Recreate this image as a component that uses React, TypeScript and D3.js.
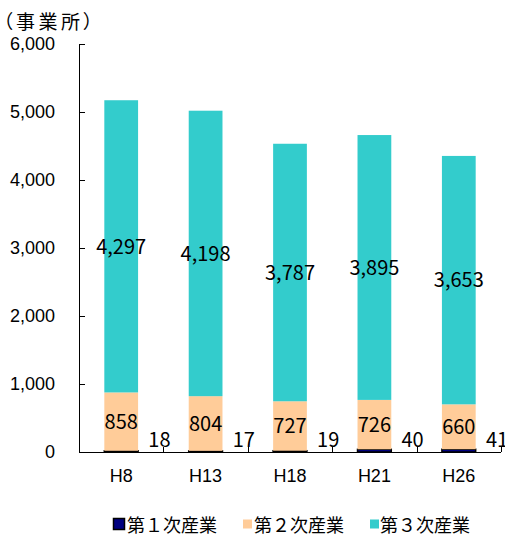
import React from "react";
import * as d3 from "d3";

const categories = ["H8", "H13", "H18", "H21", "H26"];
const primary = [18, 17, 19, 40, 41];
const secondary = [858, 804, 727, 726, 660];
const tertiary = [4297, 4198, 3787, 3895, 3653];
const seriesNames = ["第１次産業", "第２次産業", "第３次産業"];
const seriesColors = ["#000080", "#FFCC99", "#33CCCC"];
const yTicks = [0, 1000, 2000, 3000, 4000, 5000, 6000];

const W = 505;
const H = 537;
const left = 79;
const right = 501;
const top = 44;
const bottom = 452;

export default function App() {
  const x = d3.scaleBand<string>().domain(categories).range([left, right]).padding(0);
  const y = d3.scaleLinear().domain([0, 6000]).range([bottom, top]);
  const bw = x.bandwidth() * 0.4;
  const fmt = d3.format(",");
  const jp = "Noto Sans CJK JP, sans-serif";
  const ar = "Liberation Sans, Arial, sans-serif";

  const rows = categories.map((c, i) => ({
    c,
    vals: [primary[i], secondary[i], tertiary[i]],
  }));

  return (
    <svg
      width={W}
      height={H}
      style={{ position: "absolute", left: 0, top: 0, background: "#fff" }}
    >
      {/* unit label */}
      <text
        x={3}
        y={29}
        fontFamily={jp}
        fontSize={19}
        letterSpacing={3.5}
        style={{ fontFeatureSettings: '"palt"' }}
        fill="#000"
      >
        （事業所）
      </text>

      {/* bars */}
      {rows.map((r) => {
        let acc = 0;
        const x0 = (x(r.c) as number) + (x.bandwidth() - bw) / 2;
        return (
          <g key={r.c}>
            {r.vals.map((v, k) => {
              const y0 = y(acc);
              const y1 = y(acc + v);
              acc += v;
              return (
                <rect
                  key={k}
                  x={x0}
                  y={y1}
                  width={bw}
                  height={y0 - y1}
                  fill={seriesColors[k]}
                  stroke={k === 0 ? "#000" : "none"}
                  strokeWidth={k === 0 ? 1.5 : 0}
                />
              );
            })}
          </g>
        );
      })}

      {/* axes */}
      <line x1={left + 0.5} x2={left + 0.5} y1={top} y2={bottom} stroke="#000" />
      <line x1={left} x2={right} y1={bottom + 0.5} y2={bottom + 0.5} stroke="#000" />
      {yTicks.map((t) => (
        <g key={t}>
          <line
            x1={left}
            x2={left + 6}
            y1={Math.round(y(t)) + 0.5}
            y2={Math.round(y(t)) + 0.5}
            stroke="#000"
          />
          <text
            x={55}
            y={y(t)}
            dy="0.36em"
            textAnchor="end"
            fontFamily={ar}
            fontSize={18}
            fill="#000"
          >
            {fmt(t)}
          </text>
        </g>
      ))}
      {categories.map((c) => {
        const xe = Math.round((x(c) as number) + x.bandwidth()) + 0.5;
        return (
          <line key={c} x1={xe} x2={xe} y1={bottom - 5} y2={bottom} stroke="#000" />
        );
      })}
      {categories.map((c) => (
        <text
          key={c}
          x={(x(c) as number) + x.bandwidth() / 2}
          y={482}
          textAnchor="middle"
          fontFamily={ar}
          fontSize={18}
          fill="#000"
        >
          {c}
        </text>
      ))}

      {/* data labels */}
      {rows.map((r) => {
        const cx = (x(r.c) as number) + x.bandwidth() / 2;
        const s2 = r.vals[0];
        const s3 = r.vals[0] + r.vals[1];
        return (
          <g key={r.c} fontFamily={jp} fontSize={20} fill="#000">
            <text
              x={(x(r.c) as number) + x.bandwidth() - 4}
              y={447}
              textAnchor="middle"
            >
              {fmt(r.vals[0])}
            </text>
            <text x={cx} y={y(s2 + r.vals[1] / 2)} dy="0.36em" textAnchor="middle">
              {fmt(r.vals[1])}
            </text>
            <text x={cx} y={y(s3 + r.vals[2] / 2)} dy="0.36em" textAnchor="middle">
              {fmt(r.vals[2])}
            </text>
          </g>
        );
      })}

      {/* legend */}
      {seriesNames.map((n, k) => {
        const sx = [113.5, 243, 370][k];
        const tx = [127, 254, 380][k];
        const size = k === 0 ? 11 : 9;
        return (
          <g key={n}>
            <rect
              x={sx}
              y={k === 0 ? 518.5 : 519.5}
              width={size}
              height={size}
              fill={seriesColors[k]}
              stroke={k === 0 ? "#000" : "none"}
              strokeWidth={k === 0 ? 1.5 : 0}
            />
            <text x={tx} y={532} fontFamily={jp} fontSize={18} fill="#000">
              {n}
            </text>
          </g>
        );
      })}
    </svg>
  );
}
